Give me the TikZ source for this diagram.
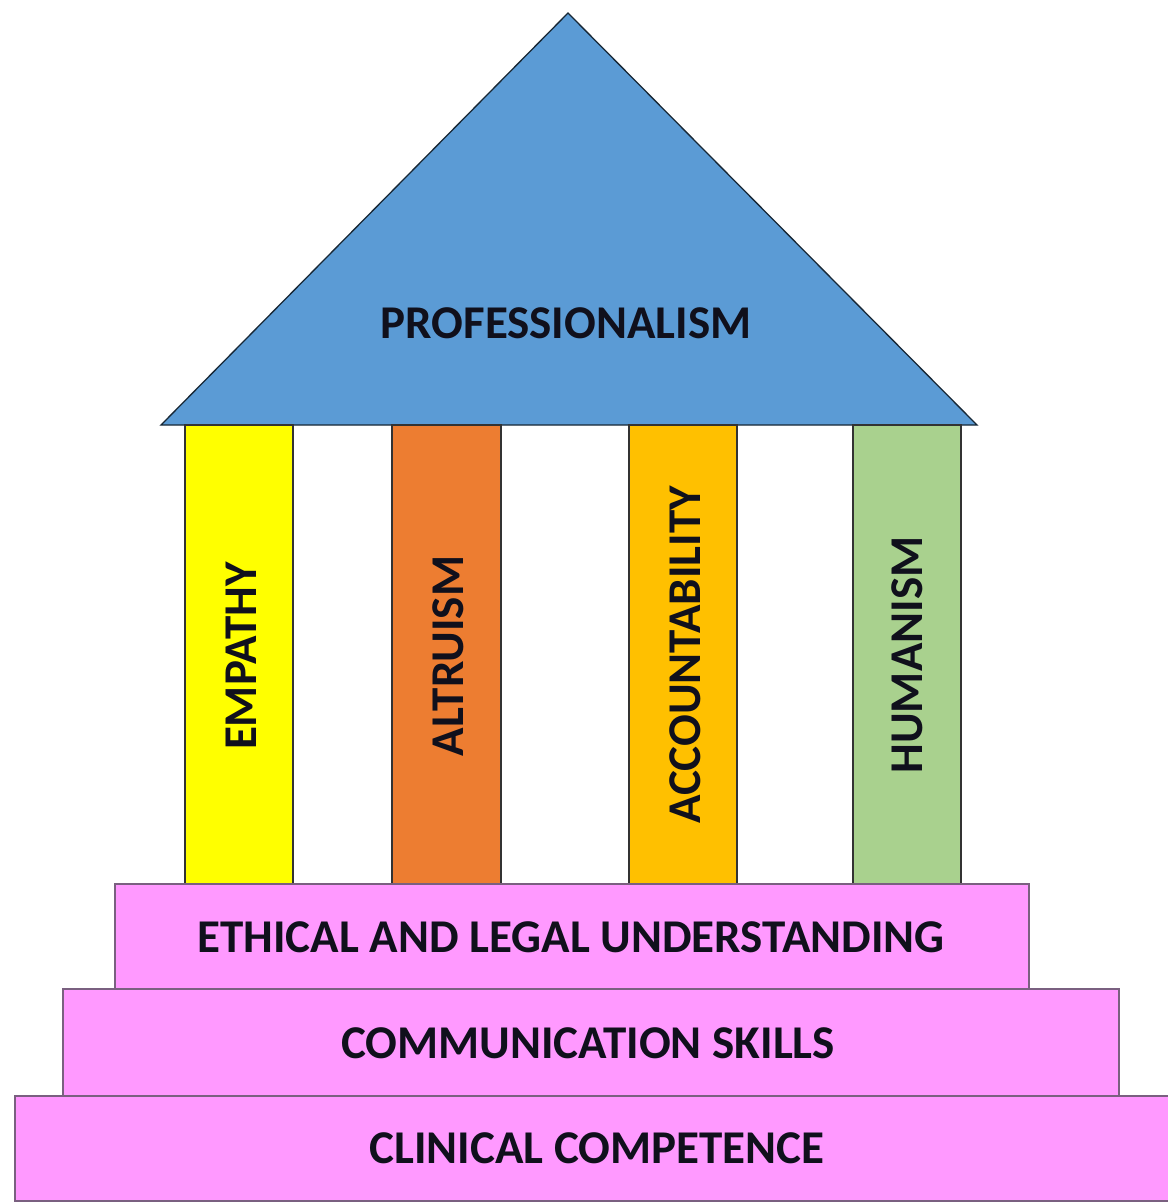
\documentclass[tikz,border=0pt]{standalone}
\usepackage{fontspec}
\setmainfont{Carlito}
\definecolor{roofblue}{HTML}{5B9BD5}
\definecolor{pyellow}{HTML}{FFFF00}
\definecolor{porange}{HTML}{ED7D31}
\definecolor{pgold}{HTML}{FFC000}
\definecolor{pgreen}{HTML}{A9D18E}
\definecolor{steppink}{HTML}{FF99FF}
\definecolor{stepline}{HTML}{7A6080}
\definecolor{txt}{HTML}{10101C}
\begin{document}
\begin{tikzpicture}[x=1pt,y=-1pt,
  pillar/.style={draw=black!80,line width=1.3pt},
  stepbox/.style={draw=stepline,fill=steppink,line width=1.3pt},
  lbl/.style={font=\bfseries\fontsize{47}{50}\selectfont,text=txt,inner sep=0pt},
  plbl/.style={lbl,rotate=90}]
\useasboundingbox (0,0) rectangle (1168,1203);
\fill[white] (0,0) rectangle (1168,1203);
\begin{scope}
\clip (0,0) rectangle (1168,1203);
% roof
\draw[fill=roofblue,draw=black!75!roofblue,line width=1.3pt,line join=miter] (568,13) -- (977,425) -- (161,425) -- cycle;
\node[lbl] (prof) at (566,323) {PROFESSIONALISM};
% pillars
\draw[pillar,fill=pyellow] (185,425) rectangle (293,884);
\draw[pillar,fill=porange] (392,425) rectangle (501,884);
\draw[pillar,fill=pgold] (629,425) rectangle (737,884);
\draw[pillar,fill=pgreen] (853,425) rectangle (961,884);
\node[plbl] (emp) at (241,656) {EMPATHY};
\node[plbl] (alt) at (448,656) {ALTRUISM};
\node[plbl] (acc) at (685,655) {ACCOUNTABILITY};
\node[plbl] (hum) at (907,655) {HUMANISM};
% steps
\draw[stepbox] (115,884) rectangle (1029,989);
\draw[stepbox] (63,989) rectangle (1119,1096);
\draw[stepbox] (15,1096) rectangle (1185,1201);
\node[lbl] (eth) at (571,937) {ETHICAL AND LEGAL UNDERSTANDING};
\node[lbl] (com) at (588,1043) {COMMUNICATION SKILLS};
\node[lbl] (cli) at (597,1148) {CLINICAL COMPETENCE};
\end{scope}
\end{tikzpicture}
\end{document}
